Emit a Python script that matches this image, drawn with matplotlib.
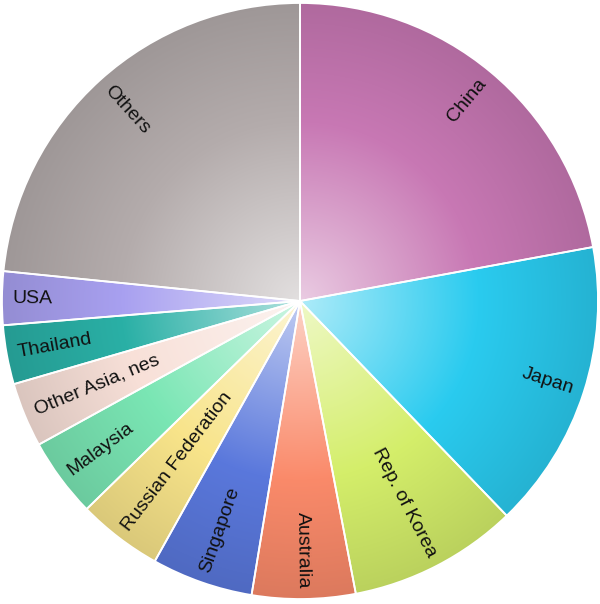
import numpy as np
import matplotlib.pyplot as plt
from matplotlib.colors import to_rgb

plt.rcParams['font.family'] = ['Liberation Sans', 'DejaVu Sans']

# share of each partner, in degrees of the pie (clockwise from 12 o'clock)
partners = ['China', 'Japan', 'Rep. of Korea', 'Australia', 'Singapore',
            'Russian Federation', 'Malaysia', 'Other Asia, nes', 'Thailand',
            'USA', 'Others']
shares = [22.1, 15.7, 9.2, 5.6, 5.5, 4.6, 4.3, 3.5, 3.2, 2.9, 23.4]
colors = ['#c878b4', '#2acbef', '#d4ee6a', '#fa8a6a', '#5a78dc', '#f8e48a',
          '#7ae6b4', '#f8e0d8', '#2ab0a6', '#a8a0f0', '#b4acac']

fig = plt.figure(figsize=(6, 6.04), dpi=100)
ax = fig.add_axes([0, 0, 1, 1])
R = 298 / 297.0

wedges, _ = ax.pie(shares, startangle=90, counterclock=False, radius=R,
                   colors=colors, center=(0, 0), normalize=True,
                   wedgeprops=dict(edgecolor='white', linewidth=1.3))

# radial gradient: pale near the centre, full colour mid-way, a bit darker at the rim
n = 600
xs = np.linspace(-R, R, n)
X, Y = np.meshgrid(xs, xs)
t = np.clip(np.sqrt(X ** 2 + Y ** 2) / R, 0, 1)[..., None]
for w, c in zip(wedges, colors):
    base = np.array(to_rgb(c))
    white = np.ones(3)
    dark = base * 0.88
    k1 = np.clip(t / 0.6, 0, 1)
    inner = white * (0.62 * (1 - k1)) + base * (1 - 0.62 * (1 - k1))
    k2 = np.clip((t - 0.6) / 0.4, 0, 1)
    img = np.where(t < 0.6, inner, base * (1 - k2) + dark * k2)
    im = ax.imshow(img, extent=(-R, R, -R, R), origin='lower',
                   interpolation='bilinear', zorder=1.5)
    im.set_clip_path(w)
    w.set_facecolor('none')
    w.set_zorder(2)

# labels along the radius, ending just inside the rim
theta1 = 90.0
total = sum(shares)
for name, s in zip(partners, shares):
    span = 360.0 * s / total
    mid = theta1 - span / 2
    theta1 -= span
    a = np.deg2rad(mid)
    rl = 287 / 297.0
    x, y = rl * np.cos(a), rl * np.sin(a)
    if np.cos(a) >= 0:
        rot, ha = mid, 'right'
    else:
        rot, ha = mid - 180, 'left'
    rot = (rot + 180) % 360 - 180
    ax.text(x, y, name, rotation=rot, rotation_mode='anchor', ha=ha,
            va='center', fontsize=14, color='#111111', zorder=3)

ax.set_xlim(-300 / 297.0, 300 / 297.0)
ax.set_ylim(-303 / 297.0, 301 / 297.0)
ax.set_aspect('auto')
ax.axis('off')
fig.savefig('out.png', dpi=100)
